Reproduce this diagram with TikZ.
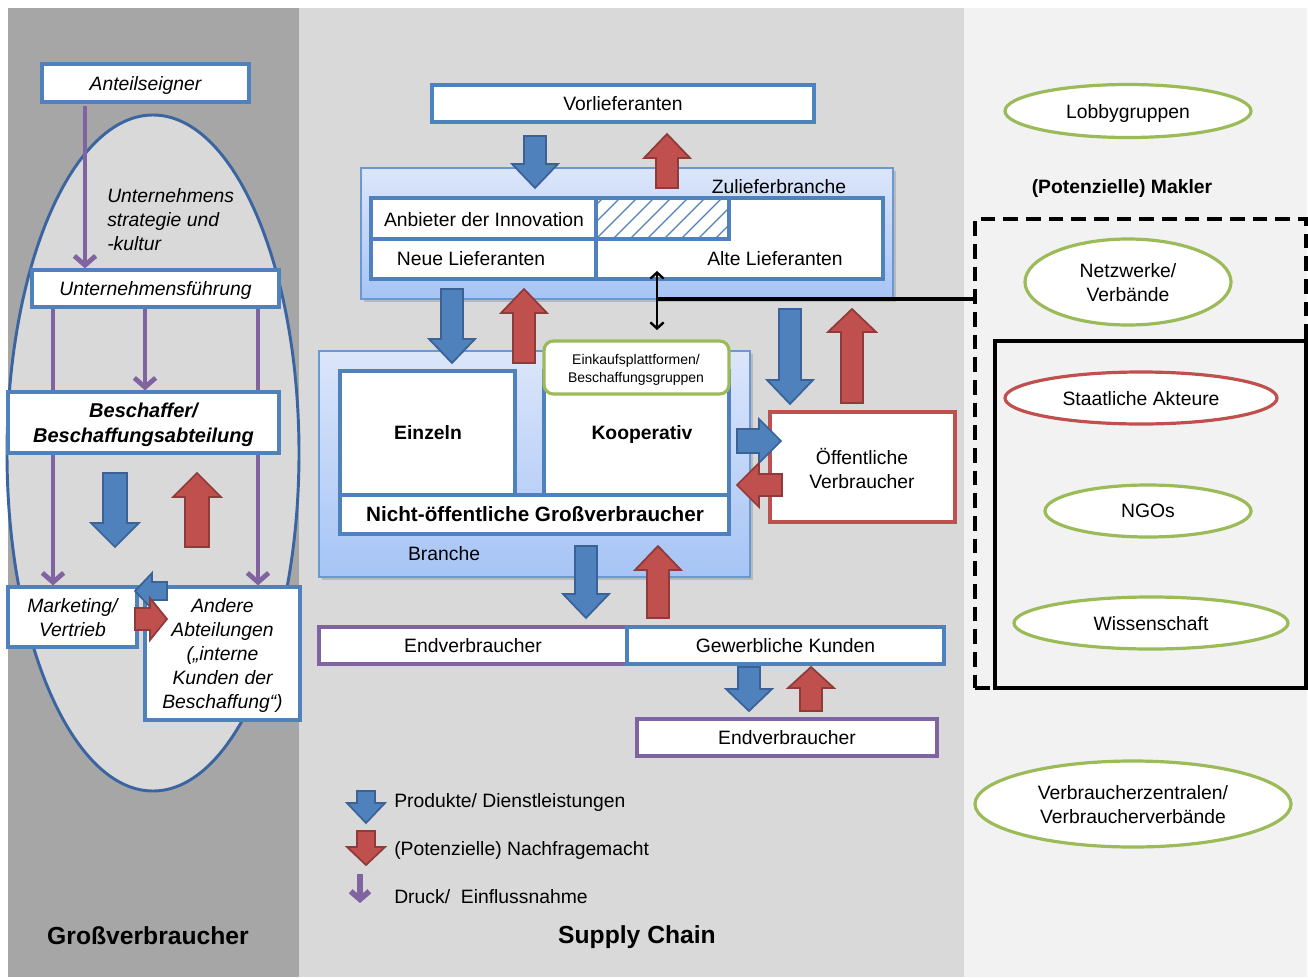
\documentclass[tikz,border=0pt]{standalone}
\usepackage{fontspec}
\setmainfont{Liberation Sans}
\usetikzlibrary{arrows.meta,fit,shadows,shapes.geometric}
\definecolor{lgray}{HTML}{A6A6A6}
\definecolor{mgray}{HTML}{D9D9D9}
\definecolor{rgray}{HTML}{F2F2F2}
\definecolor{bblue}{HTML}{4F81BD}
\definecolor{dblue}{HTML}{3A6296}
\definecolor{bred}{HTML}{C0504D}
\definecolor{dred}{HTML}{8E3B39}
\definecolor{bpurple}{HTML}{8064A2}
\definecolor{bgreen}{HTML}{9BBB59}
\definecolor{gtop}{HTML}{DCE6FA}
\definecolor{gbot}{HTML}{A6C4F5}
\definecolor{gborder}{HTML}{6A98D2}
\definecolor{ellblue}{HTML}{3B65A0}
\newcommand\fs{\fontsize{14.5}{18}\selectfont}
\newcommand\fb{\fontsize{15.5}{18}\selectfont}
\newcommand\ft{\fontsize{18.5}{22}\selectfont}
\newcommand\barrow[7]{%
 \begin{scope}[shift={#1},rotate=#2]
 \filldraw[#7] (0,-#4) -- ({#3-#6},-#4) -- ({#3-#6},-#5) -- (#3,0) -- ({#3-#6},#5) -- ({#3-#6},#4) -- (0,#4) -- cycle;
 \end{scope}}
\tikzset{
 rectbox/.style={draw=bblue, line width=2.4pt, fill=white, inner sep=0pt},
 purplebox/.style={rectbox, draw=bpurple},
 redbox/.style={rectbox, draw=bred},
 gradbox/.style={draw=gborder, line width=1.6pt, top color=gtop, bottom color=gbot, inner sep=0pt,
   drop shadow={shadow xshift=2pt, shadow yshift=-2pt, opacity=0.35}},
 ell/.style={ellipse, draw=bgreen, line width=2.4pt, fill=white, inner sep=0pt, align=center, font=\fs, text depth=0pt},
 bluearr/.style={fill=bblue, draw=dblue, line width=1.3pt},
 redarr/.style={fill=bred, draw=dred, line width=1.3pt},
 parrow/.style={draw=bpurple, line width=3.6pt, -{Straight Barb[length=7pt,width=16pt]}},
 txt/.style={font=\fs, inner sep=0pt, align=center, text depth=0pt},
 itxt/.style={txt, font=\itshape\fs},
}
\begin{document}
\begin{tikzpicture}[x=0.75pt,y=-0.75pt]
\useasboundingbox (0,0) rectangle (1308,977);
\fill[white] (0,0) rectangle (1308,977);
\fill[lgray] (8,8) rectangle (299,977);
\fill[mgray] (299,8) rectangle (964,977);
\fill[rgray] (964,8) rectangle (1307,977);

% ---------------- left panel
\draw[ellblue, line width=2.2pt, fill=mgray] (153,453) ellipse [x radius=109.5pt, y radius=253.5pt];
\node[rectbox, fit={(42,64)(249,102)}] (anteil) {};
\node[itxt] (anteilT) at (anteil.center) {Anteilseigner};
\node[rectbox, fit={(32,270)(279,307)}] (fuehr) {};
\node[itxt] (fuehrT) at (fuehr.center) {Unternehmensführung};
\node[anchor=west, align=left, inner sep=0pt, font=\itshape\fs] (kultur) at (107,220) {Unternehmens\\strategie und\\-kultur};
\coordinate (pA) at (85,0);
\coordinate (pL) at (53,0);
\coordinate (pM) at (145,0);
\coordinate (pR) at (258,0);
\node[rectbox, fit={(8,392)(279,453)}] (besch) {};
\node[rectbox, fit={(8,587)(137,647)}] (mkt) {};
\node[rectbox, fit={(145,587)(300,720)}] (andere) {};
\draw[parrow, shorten <=2pt] (anteil.south -| pA) -- (fuehr.north -| pA);
\draw[parrow] (fuehr.south -| pL) -- (mkt.north -| pL);
\draw[parrow] (fuehr.south -| pM) -- (besch.north -| pM);
\draw[parrow] (fuehr.south -| pR) -- (andere.north -| pR);
\node[rectbox, fit={(8,392)(279,453)}] (besch2) {};
\node[txt, font=\bfseries\itshape\fontsize{15}{18.5}\selectfont] (beschT) at (besch2.center) {Beschaffer/\\Beschaffungsabteilung};
\node[rectbox, fit={(8,587)(137,647)}] (mkt2) {};
\node[itxt] (mktT) at (mkt2.center) {Marketing/\\Vertrieb};
\node[rectbox, fit={(145,587)(300,720)}] (andere2) {};
\node[itxt] (andereT) at (andere2.center) {Andere\\Abteilungen\\(„interne\\Kunden der\\Beschaffung“)};
\barrow{(115,473)}{-90}{74}{12}{24}{24}{bluearr}
\barrow{(197,547)}{90}{74}{12}{24}{24}{redarr}
\barrow{(167,591)}{180}{32}{9}{18}{17}{bluearr}
\barrow{(135,619)}{0}{32}{11}{21}{17}{redarr}
\node[font=\bfseries\ft, inner sep=0pt] (gv) at (148,936) {Großverbraucher};

% ---------------- middle panel
\node[rectbox, fit={(432,85)(814,122)}] (vorl) {};
\node[txt] (vorlT) at (vorl.center) {Vorlieferanten};
\node[gradbox, fit={(361,168)(893,299)}] (zul) {};
\node[txt] (zultxt) at (779,186) {Zulieferbranche};
\node[rectbox, fit={(371,198)(883,279)}] (tab) {};
\begin{scope}
 \clip (596,198) rectangle (729,239);
 \foreach \k in {-3,...,8} \draw[bblue, line width=1pt] ({596+\k*17},239) -- ++(41,-41);
\end{scope}
\draw[bblue, line width=2.4pt] (596,198) rectangle (729,239);
\draw[bblue, line width=2.4pt] (371,239) -- (596,239);
\draw[bblue, line width=2.4pt] (596,198) -- (596,279);
\node[txt] (anb) at (484,219) {Anbieter der Innovation};
\node[txt] (neue) at (471,258) {Neue Lieferanten};
\node[txt] (alte) at (775,258) {Alte Lieferanten};

\node[gradbox, fit={(319,351)(750,577)}] (bra) {};
\node[txt] (bratxt) at (444,553) {Branche};
\node[rectbox, fit={(340,371)(515,495)}] (einz) {};
\node[txt, font=\bfseries\fs] (einzT) at (428,432) {Einzeln};
\node[rectbox, fit={(544,371)(729,495)}] (koop) {};
\node[txt, font=\bfseries\fs] (kooptxt) at (642,432) {Kooperativ};
\node[draw=bgreen, line width=2.4pt, fill=white, rounded corners=7pt, inner sep=0pt, fit={(544,341)(729,394)}] (eink) {};
\node[txt, font=\fontsize{10.5}{13.5}\selectfont] (einktxt) at (636,368) {Einkaufsplattformen/\\Beschaffungsgruppen};
\node[rectbox, fit={(340,495)(729,534)}] (nicht) {};
\node[txt, font=\bfseries\fb] (nichtT) at (535,514) {Nicht-öffentliche Großverbraucher};
\node[redbox, fit={(770,412)(955,522)}] (oeff) {};
\node[txt] (oeffT) at (862,468) {Öffentliche\\Verbraucher};
\node[purplebox, fit={(319,627)(627,664)}] (end1) {};
\node[txt] (end1T) at (end1.center) {Endverbraucher};
\node[rectbox, fit={(627,627)(944,664)}] (gew) {};
\node[txt] (gewT) at (gew.center) {Gewerbliche Kunden};
\node[purplebox, fit={(637,719)(937,756)}] (end2) {};
\node[txt] (end2T) at (end2.center) {Endverbraucher};

\barrow{(535,136)}{-90}{52}{11}{23}{24}{bluearr}
\barrow{(667,188)}{90}{54}{11}{23}{24}{redarr}
\barrow{(452,289)}{-90}{74}{11}{23}{24}{bluearr}
\barrow{(524,363)}{90}{74}{11}{23}{24}{redarr}
\barrow{(586,546)}{-90}{72}{11}{23}{24}{bluearr}
\barrow{(658,618)}{90}{72}{11}{23}{24}{redarr}
\barrow{(790,309)}{-90}{95}{11}{23}{24}{bluearr}
\barrow{(852,403)}{90}{94}{11}{24}{23}{redarr}
\barrow{(737,441)}{0}{44}{12}{22}{22}{bluearr}
\barrow{(782,485)}{180}{45}{11}{22}{22}{redarr}
\barrow{(749,667)}{-90}{44}{11}{23}{22}{bluearr}
\barrow{(811,711)}{90}{44}{11}{23}{21}{redarr}

% legend
\barrow{(366,791)}{-90}{32}{9}{19}{20}{bluearr}
\barrow{(366,831)}{-90}{34}{9}{19}{18}{redarr}
\coordinate (lp1) at (360,874);
\coordinate (lp2) at (360,903);
\draw[parrow, line width=4.2pt, -{Straight Barb[length=6pt,width=14pt]}] (lp1) -- (lp2);
\node[txt, anchor=west] (l1) at (394,800) {Produkte/ Dienstleistungen};
\node[txt, anchor=west] (l2) at (394,848) {(Potenzielle) Nachfragemacht};
\node[txt, anchor=west] (l3) at (394,896) {Druck/\ \ Einflussnahme};
\node[font=\bfseries\ft, inner sep=0pt] (sc) at (637,937) {Supply Chain};

% ---------------- right panel
\node[ell, minimum width=184.5pt, minimum height=39.75pt] (lobby) at (1128,111) {Lobbygruppen};
\node[txt, font=\bfseries\fs] (makltxt) at (1122,186) {(Potenzielle) Makler};
\node[draw=black, line width=3pt, dash pattern=on 11pt off 6pt, inner sep=0pt, fit={(975,219)(1306,688)}] (makl) {};
\node[draw=black, line width=3pt, fill=rgray, inner sep=0pt, fit={(995,341)(1306,688)}] (staat) {};
\node[ell, minimum width=154.5pt, minimum height=64.5pt] (netz) at (1128,282) {Netzwerke/\\Verbände};
\node[ell, draw=bred, minimum width=204pt, minimum height=39pt] (akt) at (1141,398) {Staatliche Akteure};
\node[ell, minimum width=154.5pt, minimum height=39pt] (ngo) at (1148,511) {NGOs};
\node[ell, minimum width=205.5pt, minimum height=39pt] (wiss) at (1151,623) {Wissenschaft};
\node[ell, minimum width=237pt, minimum height=64.5pt] (vz) at (1133,804) {Verbraucherzentralen/\\Verbraucherverbände};

% connector
\coordinate (da) at (657,271);
\coordinate (db) at (657,330);
\coordinate (jn) at (657,299);
\draw[line width=1.8pt, {Straight Barb[length=4.5pt,width=10pt]}-{Straight Barb[length=4.5pt,width=10pt]}] (da) -- (db);
\draw[line width=2.4pt] (jn) -- (jn -| makl.west);
\end{tikzpicture}
\end{document}
